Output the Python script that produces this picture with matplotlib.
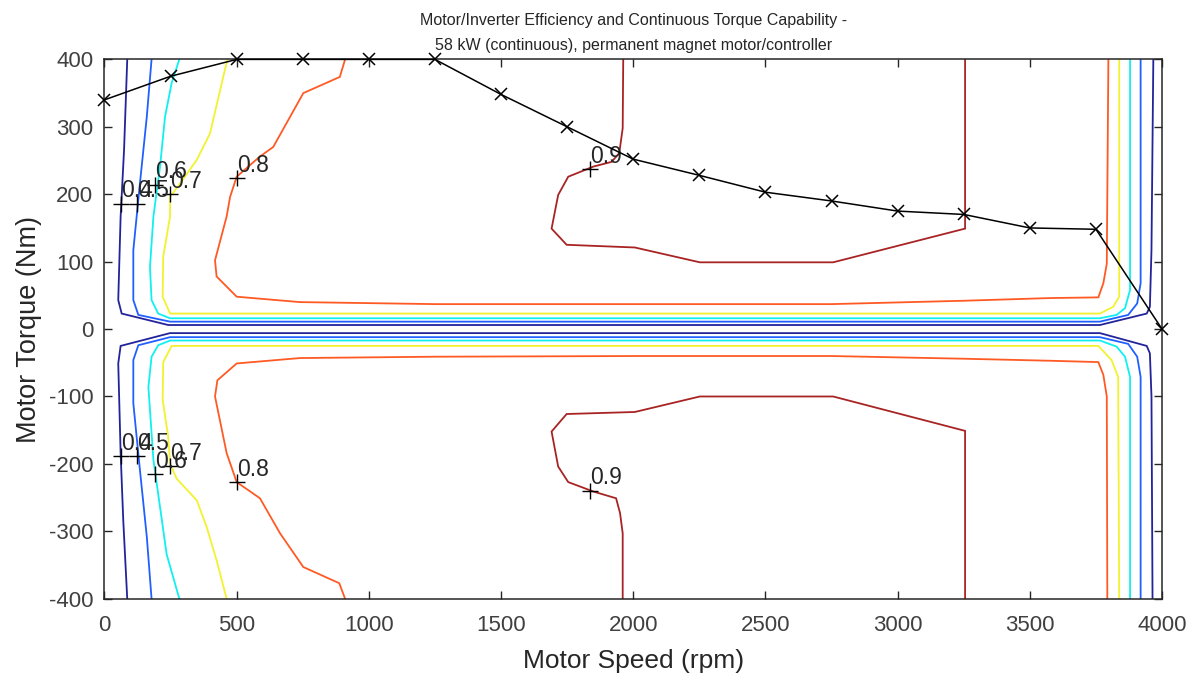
import matplotlib
matplotlib.use('Agg')
import matplotlib.pyplot as plt

matplotlib.rcParams['font.family'] = ['Liberation Sans', 'DejaVu Sans']
matplotlib.rcParams['axes.unicode_minus'] = False

# continuous torque capability curve
speed_rpm = [0, 250, 500, 750, 1000, 1250, 1500, 1750, 2000, 2250, 2500, 2750, 3000, 3250, 3500, 3750, 4000]
torque_nm = [340, 375, 400, 400, 400, 400, 348, 300, 252, 228, 203, 190, 175, 170, 150, 148, 0]

# efficiency contour levels and their line colours (jet-like)
levels = [0.4, 0.5, 0.6, 0.7, 0.8, 0.9]
level_colors = ['#23239a', '#2060ff', '#10f0f0', '#f2f230', '#ff5a24', '#a82424']

# contour lines (rpm, Nm): motoring (+) and generating (-) halves
eff_40_pos = [(86, 400), (74, 266), (61, 167), (52, 43), (65, 23), (241, 6), (3765, 6),
              (3942, 23), (3954, 33), (3960, 117), (3967, 400)]
eff_40_neg = [(86, -400), (71, -284), (61, -184), (52, -51), (61, -25), (248, -6), (3765, -6),
              (3942, -25), (3954, -36), (3960, -100), (3964, -400)]
eff_50_pos = [(178, 400), (160, 315), (134, 216), (109, 117), (109, 43), (128, 21), (248, 11),
              (3765, 11), (3872, 21), (3906, 38), (3919, 68), (3919, 400)]
eff_50_neg = [(178, -400), (160, -308), (134, -209), (109, -110), (109, -46), (128, -24), (248, -12),
              (3765, -12), (3872, -22), (3906, -41), (3919, -71), (3919, -400)]
eff_60_pos = [(283, 400), (254, 365), (229, 315), (210, 241), (185, 167), (172, 92), (178, 43),
              (203, 23), (248, 16), (3765, 16), (3828, 21), (3860, 31), (3879, 58), (3879, 400)]
eff_60_neg = [(283, -400), (235, -334), (210, -264), (185, -194), (166, -86), (178, -41), (203, -24),
              (248, -17), (3765, -17), (3828, -26), (3860, -41), (3879, -71), (3879, -400)]
eff_70_pos = [(465, 400), (449, 374), (399, 290), (349, 251), (286, 216), (248, 196), (248, 167),
              (222, 107), (220, 48), (248, 23), (3765, 23), (3815, 33), (3838, 48), (3838, 400)]
eff_70_neg = [(462, -400), (424, -343), (386, -293), (349, -254), (273, -222), (248, -199),
              (241, -160), (220, -105), (222, -49), (254, -25), (3759, -25), (3809, -46),
              (3834, -71), (3838, -400)]
eff_80_pos = [(910, 400), (890, 374), (752, 350), (638, 270), (588, 256), (500, 226), (475, 196),
              (462, 167), (418, 102), (424, 78), (500, 48), (739, 40), (1250, 37), (2000, 37),
              (2750, 37), (3250, 42), (3577, 46), (3759, 47), (3778, 68), (3791, 97), (3797, 400)]
eff_80_neg = [(910, -400), (888, -377), (752, -353), (664, -303), (588, -251), (500, -227),
              (462, -184), (418, -100), (427, -76), (500, -51), (739, -43), (1250, -41),
              (2000, -40), (2750, -40), (3250, -44), (3577, -47), (3759, -49), (3778, -68),
              (3791, -100), (3793, -400)]
eff_90_pos = [(1962, 400), (1960, 298), (1947, 261), (1918, 248), (1849, 241), (1754, 226),
              (1716, 199), (1691, 149), (1748, 125), (2006, 121), (2252, 99), (2756, 99),
              (3255, 149), (3255, 400)]
eff_90_neg = [(1960, -400), (1960, -303), (1950, -273), (1935, -251), (1849, -241), (1754, -227),
              (1716, -204), (1691, -152), (1748, -126), (2006, -123), (2252, -100), (2756, -100),
              (3255, -151), (3255, -400)]

contour_lines = [(eff_40_pos, eff_40_neg), (eff_50_pos, eff_50_neg), (eff_60_pos, eff_60_neg),
                 (eff_70_pos, eff_70_neg), (eff_80_pos, eff_80_neg), (eff_90_pos, eff_90_neg)]

# clabel positions
label_rpm_pos = [61, 124, 191, 248, 500, 1836]
label_nm_pos = [186, 186, 214, 200, 224, 237]
label_rpm_neg = [61, 124, 191, 248, 500, 1836]
label_nm_neg = [-189, -189, -215, -203, -227, -240]

fig = plt.figure(figsize=(11.97, 6.75), dpi=100)
ax = fig.add_axes([0.0873, 0.113, 0.8835, 0.799])

for col, (pos, neg) in zip(level_colors, contour_lines):
    for line in (pos, neg):
        xs, ys = zip(*line)
        ax.plot(xs, ys, color=col, lw=1.3, solid_joinstyle='miter')

# labels with '+' markers like matlab clabel
for lev, xp, yp, xn, yn in zip(levels, label_rpm_pos, label_nm_pos, label_rpm_neg, label_nm_neg):
    for x, y in ((xp, yp), (xn, yn)):
        ax.plot(x, y, marker='+', color='black', ms=11, mew=1.0)
        ax.annotate(f'{lev:g}', (x, y), xytext=(0, 1), textcoords='offset points',
                    ha='left', va='bottom', fontsize=16.5, color='#262626')

ax.plot(speed_rpm, torque_nm, color='black', lw=1.1, marker='x', ms=8, mew=1.1, clip_on=False, zorder=5)

ax.set_xlim(0, 4000)
ax.set_ylim(-400, 400)
ax.set_xticks(range(0, 4001, 500))
ax.set_yticks(range(-400, 401, 100))
ax.tick_params(direction='in', length=6, width=1, top=True, right=True, labelsize=16,
               colors='#262626', labelcolor='#404040')
ax.tick_params(axis='x', pad=12)
ax.tick_params(axis='y', pad=8)
for s in ax.spines.values():
    s.set_color('#262626')
    s.set_linewidth(1.1)

ax.set_xlabel('Motor Speed (rpm)', fontsize=19, color='#262626', labelpad=9)
ax.set_ylabel('Motor Torque (Nm)', fontsize=19.5, color='#262626', labelpad=5)
ax.set_title('Motor/Inverter Efficiency and Continuous Torque Capability -\n'
             '58 kW (continuous), permanent magnet motor/controller',
             fontsize=11.5, color='#262626', linespacing=1.8, pad=7)

plt.savefig('out.png', dpi=100)
